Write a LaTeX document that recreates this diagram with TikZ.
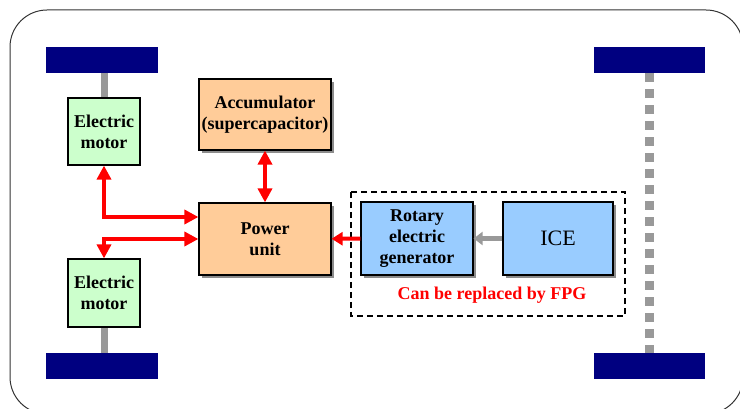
\documentclass[tikz,border=0pt]{standalone}
\usepackage{fontspec}
\setmainfont{LiberationSerif}[Extension=.ttf, UprightFont=*-Regular, BoldFont=*-Bold, ItalicFont=*-Italic, BoldItalicFont=*-BoldItalic]
\usetikzlibrary{
    arrows.meta,
    positioning,
    calc,
    shadows,
    backgrounds
}
\definecolor{motorgreen}{HTML}{CCFFCC}
\definecolor{unitorange}{HTML}{FFCC99}
\definecolor{genblue}{HTML}{99CCFF}
\definecolor{wheelnavy}{HTML}{000080}
\definecolor{shaftgray}{HTML}{999999}

\begin{document}
\begin{tikzpicture}[
        x=1pt, y=-1pt,
        box/.style={rectangle, draw, line width=1.2pt, align=center, inner sep=2pt, font=\fontsize{18}{21}\selectfont\bfseries},
        shadebox/.style={box, drop shadow={shadow xshift=3pt, shadow yshift=-3pt, fill=black!45, opacity=1}},
        wheel/.style={rectangle, fill=wheelnavy, minimum width=112pt, minimum height=26pt, inner sep=0pt},
        link/.style={{Triangle[length=14pt,width=14pt]}-{Triangle[length=14pt,width=14pt]}, red, line width=4pt},
        feed/.style={-{Triangle[length=11pt,width=13pt]}, red, line width=4pt},
        drive/.style={-{Triangle[length=9pt,width=13pt]}, shaftgray, line width=5pt},
        shaft/.style={shaftgray, line width=7pt, line cap=round},
        axle/.style={shaftgray, line width=9pt, dash pattern=on 9pt off 7pt}
    ]
        \useasboundingbox (0,0) rectangle (740,409);
        \clip (0,0) rectangle (740,409);

        % Chassis
        \draw[black!80, line width=1pt, rounded corners=37pt] (10,10) rectangle (743,414);

        % Wheels
        \node[wheel] (wheelTL) at (102,60) {};
        \node[wheel] (wheelBL) at (102,366) {};
        \node[wheel, minimum width=111pt] (wheelTR) at (649,60) {};
        \node[wheel, minimum width=111pt] (wheelBR) at (649,366) {};

        % Motors
        \node[box, fill=motorgreen, minimum width=72pt, minimum height=67pt] (motor1) at (104,131.5) {Electric\\motor};
        \node[box, fill=motorgreen, minimum width=72pt, minimum height=68pt] (motor2) at (104,293) {Electric\\motor};

        % Storage and power unit
        \node[shadebox, fill=unitorange, minimum width=132pt, minimum height=71pt] (accu) at (265,114.5) {Accumulator\\(supercapacitor)};
        \node[shadebox, fill=unitorange, minimum width=132pt, minimum height=72pt] (power) at (265,239) {Power\\unit};

        % Generator set
        \node[shadebox, fill=genblue, minimum width=112pt, minimum height=73pt] (rotgen) at (417,238.5) {Rotary\\electric\\generator};
        \node[shadebox, fill=genblue, minimum width=110pt, minimum height=73pt, font=\fontsize{22}{26}\selectfont] (ice) at (558,238.5) {ICE};
        \node[font=\fontsize{18}{21}\selectfont\bfseries, text=red] (fpg) at (492,295) {Can be replaced by FPG};
        \draw[dashed, line width=2pt, dash pattern=on 6pt off 4pt] (351,192) rectangle (625,316);

        % Shafts
        \begin{scope}[on background layer]
            \draw[shaft] (motor1.north) -- (motor1.north |- wheelTL.south);
            \draw[shaft] (motor2.south) -- (motor2.south |- wheelBL.north);
            \draw[axle] (wheelTR.south) -- (wheelBR.north);
        \end{scope}

        % Arrows
        \draw[link] (accu) -- (power);
        \draw[link] (motor1.south) |- ([yshift=22pt]power.west);
        \draw[link] (motor2.north) |- (power.west);
        \draw[feed] (rotgen) -- (power);
        \draw[drive] (ice) -- (rotgen);
    \end{tikzpicture}
\end{document}
